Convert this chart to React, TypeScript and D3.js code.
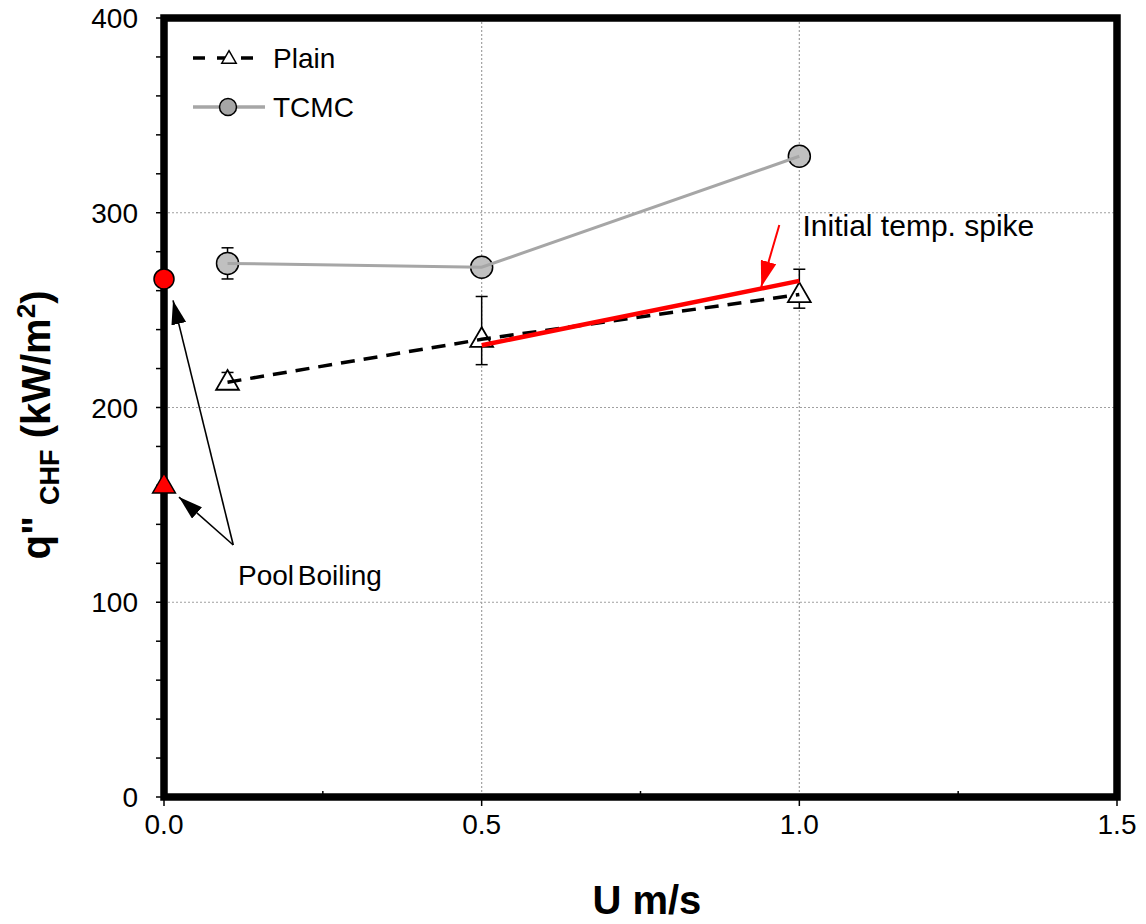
import React, { useRef, useEffect } from 'react';
import * as d3 from 'd3';

// Plain surface (triangles, dashed black)
const plainU = [0.1, 0.5, 1.0];
const plainQ = [213, 235, 258];
const plainErrLow = [211, 222, 251];
const plainErrHigh = [218, 257, 271];

// TCMC surface (grey circles)
const tcmcU = [0.1, 0.5, 1.0];
const tcmcQ = [274, 272, 329];
const tcmcErrLow = [266, 272, 329];
const tcmcErrHigh = [282, 272, 329];

// Pool boiling points at U = 0
const poolTcmc = 266;
const poolPlain = 160;

// Initial temp. spike line
const spikeU = [0.5, 1.0];
const spikeQ = [232, 265];

const xTicks = [0, 0.5, 1.0, 1.5];
const xTickLabels = ['0.0', '0.5', '1.0', '1.5'];
const yTicks = [0, 100, 200, 300, 400];

const App = () => {
    const ref = useRef(null);

    useEffect(() => {
        const svg = d3.select(ref.current);
        svg.selectAll('*').remove();

        const margin = { top: 18, right: 29, bottom: 127, left: 164 };
        const W = 1146, H = 924;
        const width = W - margin.left - margin.right;
        const height = H - margin.top - margin.bottom;
        const font = 'Liberation Sans, Arial, sans-serif';

        const g = svg.append('g').attr('transform', `translate(${margin.left},${margin.top})`);

        const x = d3.scaleLinear().domain([0, 1.5]).range([0, width]);
        const y = d3.scaleLinear().domain([0, 400]).range([height, 0]);

        // grid lines
        g.append('g').selectAll('line')
            .data([0.5, 1.0]).enter().append('line')
            .attr('x1', d => x(d)).attr('x2', d => x(d))
            .attr('y1', 0).attr('y2', height)
            .attr('stroke', '#a0a0a0').attr('stroke-width', 1.2).attr('stroke-dasharray', '2,2');
        g.append('g').selectAll('line')
            .data([100, 200, 300]).enter().append('line')
            .attr('y1', d => y(d)).attr('y2', d => y(d))
            .attr('x1', 0).attr('x2', width)
            .attr('stroke', '#a0a0a0').attr('stroke-width', 1.2).attr('stroke-dasharray', '2,2');

        // ticks
        g.append('g').selectAll('line')
            .data(d3.range(0, 401, 20)).enter().append('line')
            .attr('x1', -8).attr('x2', 0)
            .attr('y1', d => y(d)).attr('y2', d => y(d))
            .attr('stroke', '#000').attr('stroke-width', 1.5);
        g.append('g').selectAll('line')
            .data([0, 0.25, 0.5, 0.75, 1.0, 1.25, 1.5]).enter().append('line')
            .attr('x1', d => x(d)).attr('x2', d => x(d))
            .attr('y1', d => (d * 2) % 1 === 0 ? height + 9 : height - 6)
            .attr('y2', height)
            .attr('stroke', '#000').attr('stroke-width', 1.5);

        // tick labels
        g.append('g').selectAll('text')
            .data(yTicks).enter().append('text')
            .attr('x', -26).attr('y', d => y(d) + 10)
            .attr('text-anchor', 'end')
            .attr('font-family', font).attr('font-size', 28)
            .text(d => d);
        g.append('g').selectAll('text')
            .data(xTicks).enter().append('text')
            .attr('x', d => x(d)).attr('y', height + 37)
            .attr('text-anchor', 'middle')
            .attr('font-family', font).attr('font-size', 28)
            .text((d, i) => xTickLabels[i]);

        // axis titles
        svg.append('text')
            .attr('x', margin.left + x(0.76)).attr('y', 914)
            .attr('text-anchor', 'middle')
            .attr('font-family', font).attr('font-size', 40).attr('font-weight', 'bold')
            .text('U m/s');
        const yt = svg.append('text')
            .attr('transform', `translate(50,425) rotate(-90)`)
            .attr('text-anchor', 'middle')
            .attr('font-family', font).attr('font-size', 40).attr('font-weight', 'bold');
        yt.append('tspan').text('q" ');
        yt.append('tspan').attr('font-size', 27).attr('dy', 9).text('CHF');
        yt.append('tspan').attr('dy', -9).text(' (kW/m');
        yt.append('tspan').attr('font-size', 26).attr('dy', -15).text('2');
        yt.append('tspan').attr('dy', 15).text(')');

        // arrow markers
        const defs = svg.append('defs');
        const mk = (id, color, len, wid) => defs.append('marker')
            .attr('id', id).attr('viewBox', '0 0 10 10')
            .attr('refX', 10).attr('refY', 5)
            .attr('markerWidth', len).attr('markerHeight', wid)
            .attr('markerUnits', 'userSpaceOnUse')
            .attr('orient', 'auto')
            .attr('preserveAspectRatio', 'none')
            .append('path').attr('d', 'M0,0 L10,5 L0,10 Z').attr('fill', color);
        mk('arrBlack', '#000', 24, 15);
        mk('arrRed', '#f00', 26, 16);

        const tcmc = tcmcU.map((u, i) => ({ u, q: tcmcQ[i], lo: tcmcErrLow[i], hi: tcmcErrHigh[i] }));
        const plain = plainU.map((u, i) => ({ u, q: plainQ[i], lo: plainErrLow[i], hi: plainErrHigh[i] }));
        const line = d3.line().x(d => x(d.u)).y(d => y(d.q));

        const errBars = (data) => {
            const eg = g.append('g');
            data.filter(d => d.hi - d.lo > 0).forEach(d => {
                eg.append('line').attr('x1', x(d.u)).attr('x2', x(d.u))
                    .attr('y1', y(d.lo)).attr('y2', y(d.hi)).attr('stroke', '#000').attr('stroke-width', 1.5);
                [d.lo, d.hi].forEach(v => eg.append('line')
                    .attr('x1', x(d.u) - 6).attr('x2', x(d.u) + 6)
                    .attr('y1', y(v)).attr('y2', y(v)).attr('stroke', '#000').attr('stroke-width', 1.5));
            });
        };

        // TCMC
        errBars(tcmc);
        g.append('g').selectAll('circle').data(tcmc).enter().append('circle')
            .attr('cx', d => x(d.u)).attr('cy', d => y(d.q)).attr('r', 11)
            .attr('fill', '#c0c0c0').attr('stroke', '#000').attr('stroke-width', 1.5);
        g.append('path').datum(tcmc)
            .attr('fill', 'none').attr('stroke', '#a6a6a6').attr('stroke-width', 3).attr('d', line);

        // Plain
        errBars(plain);
        const tri = d3.symbol().type(d3.symbolTriangle).size(225);
        g.append('g').selectAll('path').data(plain).enter().append('path')
            .attr('transform', d => `translate(${x(d.u)},${y(d.q) + 1})`)
            .attr('d', tri)
            .attr('fill', '#fff').attr('stroke', '#000').attr('stroke-width', 1.8);
        g.append('path').datum(plain)
            .attr('fill', 'none').attr('stroke', '#000').attr('stroke-width', 3.5)
            .attr('stroke-dasharray', '14,9').attr('d', line);

        // spike line
        g.append('path').datum(spikeU.map((u, i) => ({ u, q: spikeQ[i] })))
            .attr('fill', 'none').attr('stroke', '#f00').attr('stroke-width', 4.5).attr('d', line);

        // frame
        g.append('rect')
            .attr('x', 0).attr('y', 0).attr('width', width).attr('height', height)
            .attr('fill', 'none').attr('stroke', '#000').attr('stroke-width', 7.5);

        // pool boiling markers
        g.append('circle').attr('cx', x(0)).attr('cy', y(poolTcmc)).attr('r', 10)
            .attr('fill', '#f00').attr('stroke', '#000').attr('stroke-width', 1.5);
        g.append('path').attr('transform', `translate(${x(0)},${y(poolPlain) + 1})`)
            .attr('d', tri).attr('fill', '#f00').attr('stroke', '#000').attr('stroke-width', 1.5);

        // annotations
        const ax = x(0.109), ay = y(129.4);
        g.append('line').attr('x1', ax).attr('y1', ay).attr('x2', x(0.0142)).attr('y2', y(255))
            .attr('stroke', '#000').attr('stroke-width', 1.6).attr('marker-end', 'url(#arrBlack)');
        g.append('line').attr('x1', ax).attr('y1', ay).attr('x2', x(0.0236)).attr('y2', y(154))
            .attr('stroke', '#000').attr('stroke-width', 1.6).attr('marker-end', 'url(#arrBlack)');
        g.append('text').attr('x', x(0.1165)).attr('y', y(109))
            .attr('font-family', font).attr('font-size', 28).attr('word-spacing', -4)
            .text('Pool Boiling');

        g.append('line').attr('x1', x(0.9685)).attr('y1', y(293.7)).attr('x2', x(0.94)).attr('y2', y(261.9))
            .attr('stroke', '#f00').attr('stroke-width', 2).attr('marker-end', 'url(#arrRed)');
        g.append('text').attr('x', x(1.005)).attr('y', y(288))
            .attr('font-family', font).attr('font-size', 30)
            .text('Initial temp. spike');

        // legend
        const lg = g.append('g').attr('transform', 'translate(29,40)');
        lg.append('line').attr('x1', 0).attr('x2', 72).attr('y1', 0).attr('y2', 0)
            .attr('stroke', '#000').attr('stroke-width', 3.5).attr('stroke-dasharray', '12,12');
        lg.append('path').attr('transform', 'translate(36,1)')
            .attr('d', d3.symbol().type(d3.symbolTriangle).size(90))
            .attr('fill', '#fff').attr('stroke', '#000').attr('stroke-width', 1.5);
        lg.append('text').attr('x', 80).attr('y', 10)
            .attr('font-family', font).attr('font-size', 28).text('Plain');
        lg.append('line').attr('x1', 0).attr('x2', 72).attr('y1', 49).attr('y2', 49)
            .attr('stroke', '#a6a6a6').attr('stroke-width', 3.5);
        lg.append('circle').attr('cx', 35).attr('cy', 49).attr('r', 8.5)
            .attr('fill', '#a6a6a6').attr('stroke', '#000').attr('stroke-width', 1.5);
        lg.append('text').attr('x', 80).attr('y', 59)
            .attr('font-family', font).attr('font-size', 28).text('TCMC');
    }, []);

    return (
        <svg ref={ref} width={1146} height={924}
            style={{ position: 'absolute', left: 0, top: 0, background: '#fff' }}></svg>
    );
};

export default App;
